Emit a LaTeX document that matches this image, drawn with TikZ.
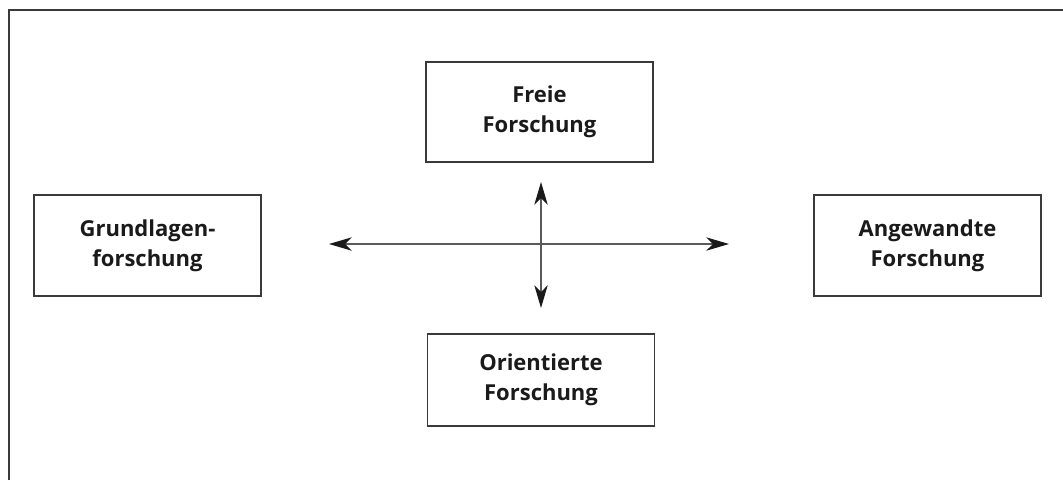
\documentclass[tikz,border=0pt]{standalone}
\usepackage{fontspec}
\setmainfont{Open Sans}
\usetikzlibrary{arrows.meta}
\definecolor{framegray}{HTML}{3A3A3A}
\definecolor{linegray}{HTML}{5A5A5A}
\definecolor{headblack}{HTML}{1A1A1A}
\tikzset{
  box/.style={draw=framegray, line width=1.1pt, minimum width=170pt, align=center,
    font=\fontsize{16.5}{22.5}\selectfont\bfseries, text=headblack},
  dirarrow/.style={draw=linegray, line width=0.9pt,
    {Stealth[length=17pt, width=10pt, inset=5pt, color=headblack]}-{Stealth[length=17pt, width=10pt, inset=5pt, color=headblack]}}
}

\begin{document}
\begin{tikzpicture}[x=0.75pt, y=-0.75pt]
            \useasboundingbox (0,0) rectangle (1063,480);

            % Frame
            \draw[framegray, line width=1.5pt] (8.5,480) -- (8.5,9.5) -- (1063,9.5);

            % Boxes
            \node[box, minimum height=75pt] (freie) at (539.5,112) {Freie\\Forschung};
            \node[box, minimum height=75.5pt] (grund) at (147.5,245.5) {Grundlagen-\\forschung};
            \node[box, minimum height=75.5pt] (angew) at (927.5,245.5) {Angewandte\\Forschung};
            \node[box, minimum height=69pt] (orient) at (541,380) {Orientierte\\Forschung};

            % Arrow ends
            \coordinate (west) at (329,244);
            \coordinate (east) at (729,244);
            \coordinate (north) at (541,182);
            \coordinate (south) at (541,308);

            % Arrows
            \draw[dirarrow] (west) -- (east);
            \draw[dirarrow] (north) -- (south);

        \end{tikzpicture}
\end{document}
